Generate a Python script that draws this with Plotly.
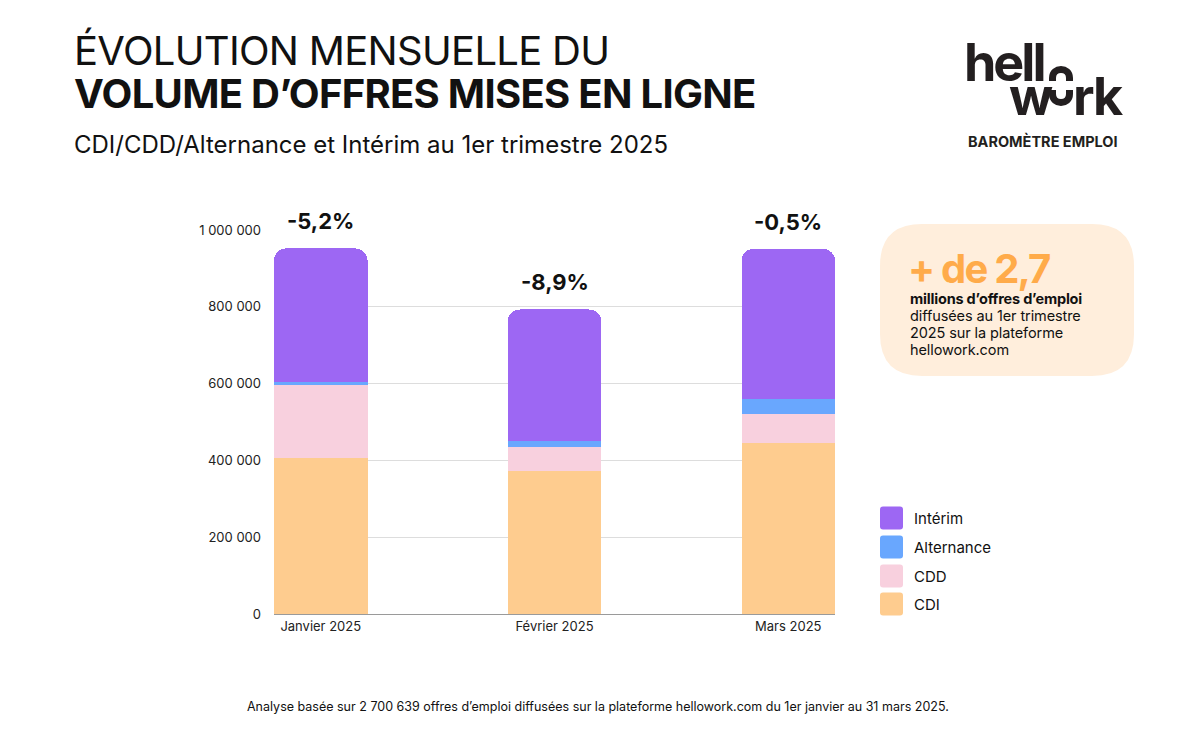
import plotly.graph_objects as go

# ---- data ----
months = ["Janvier 2025", "Février 2025", "Mars 2025"]
cdi = [407000, 372000, 445000]
cdd = [189000, 62000, 77000]
alternance = [8000, 16000, 38000]
interim = [348000, 343000, 391000]
evolution = ["-5,2%", "-8,9%", "-0,5%"]
series_names = ["CDI", "CDD", "Alternance", "Intérim"]
y_ticks = [0, 200000, 400000, 600000, 800000, 1000000]

colors = {"CDI": "#FECC8F", "CDD": "#F8D0DE", "Alternance": "#69A7FE", "Intérim": "#9D67F3"}
values = {"CDI": cdi, "CDD": cdd, "Alternance": alternance, "Intérim": interim}

# page body has an 8px default margin: compensate
OFF = 8
W, H = 1200 - OFF, 740 - OFF
ML, MT = 274 - OFF, 230 - OFF
PW, PH = 561, 384
MR, MB = W - ML - PW, H - MT - PH
FONT = "Inter"
DARK = "#111111"
LOGO = "#231F20"


def px(x):
    # x in reference-picture pixels -> paper coordinate
    return (x - OFF - ML) / PW


def py(y):
    return (MT + PH - (y - OFF)) / PH


fig = go.Figure()
for name in series_names:
    fig.add_trace(go.Bar(
        x=months, y=values[name], name=name,
        marker=dict(color=colors[name], line=dict(width=0)),
        hoverinfo="x+y+name",
    ))

totals = [a + b + c + d for a, b, c, d in zip(cdi, cdd, alternance, interim)]

annotations = []
for m, t, e in zip(months, totals, evolution):
    annotations.append(dict(x=m, y=t, xref="x", yref="y", text="<b>%s</b>" % e,
                            showarrow=False, yanchor="bottom", yshift=12,
                            font=dict(family=FONT, size=22, color=DARK)))


def txt(x, y, text, size, color=DARK, xanchor="left", yanchor="middle", weight=None, ls=None):
    t = text
    if ls is not None:
        t = '<span style="letter-spacing:%spx">%s</span>' % (ls, t)
    if weight == "bold":
        t = "<b>%s</b>" % t
    annotations.append(dict(x=px(x), y=py(y), xref="paper", yref="paper", text=t,
                            showarrow=False, xanchor=xanchor, yanchor=yanchor,
                            font=dict(family=FONT, size=size, color=color)))


# titles
txt(72, 50, "ÉVOLUTION MENSUELLE DU", 40, ls=-0.7)
txt(72, 93, "VOLUME D’OFFRES MISES EN LIGNE", 40, weight="bold", ls=-0.7)
txt(72, 144, "CDI/CDD/Alternance et Intérim au 1er trimestre 2025", 24)

# footer
txt(598, 706, "Analyse basée sur 2 700 639 offres d’emploi diffusées sur la plateforme hellowork.com du 1er janvier au 31 mars 2025.",
    12.5, xanchor="center")

# logo
txt(962, 62, "hell", 52, color=LOGO, weight="bold", ls=-3)
txt(1007, 96, "w", 52, color=LOGO, weight="bold", ls=-2)
txt(1071, 96, "rk", 52, color=LOGO, weight="bold", ls=-2)
txt(1043, 141, "BAROMÈTRE EMPLOI", 14.5, color=LOGO, xanchor="center", weight="bold")

shapes = []


def arc(cx, cy, r, up=True):
    k = 4.0 / 3.0 * r * (-1 if up else 1)
    pts = [(cx - r, cy), (cx - r, cy + k), (cx + r, cy + k), (cx + r, cy)]
    p = [(px(a), py(b)) for a, b in pts]
    return "L%f,%f C%f,%f %f,%f %f,%f" % (p[0][0], p[0][1], p[1][0], p[1][1], p[2][0], p[2][1], p[3][0], p[3][1])


# split "o" of the hellowork logo
shapes.append(dict(type="path", xref="paper", yref="paper",
                   path="M%f,%f " % (px(1052.5), py(81)) + arc(1061, 78, 8.5, True) +
                   " L%f,%f" % (px(1069.5), py(81)),
                   line=dict(color=LOGO, width=7)))
shapes.append(dict(type="path", xref="paper", yref="paper",
                   path="M%f,%f " % (px(1052.5), py(90)) + arc(1061, 94, 8.5, False) +
                   " L%f,%f" % (px(1069.5), py(90)),
                   line=dict(color=LOGO, width=7)))


def rrect(x0, y0, x1, y1, r):
    pts = [
        ("M", [(x0 + r, y0)]), ("L", [(x1 - r, y0)]), ("Q", [(x1, y0), (x1, y0 + r)]),
        ("L", [(x1, y1 - r)]), ("Q", [(x1, y1), (x1 - r, y1)]), ("L", [(x0 + r, y1)]),
        ("Q", [(x0, y1), (x0, y1 - r)]), ("L", [(x0, y0 + r)]), ("Q", [(x0, y0), (x0 + r, y0)]),
    ]
    s = ""
    for cmd, ps in pts:
        s += cmd + " ".join("%f,%f" % (px(a), py(b)) for a, b in ps) + " "
    return s + "Z"


# callout box
shapes.append(dict(type="path", xref="paper", yref="paper", path=rrect(880, 224, 1134, 376, 42),
                   fillcolor="#FFEEDC", line=dict(width=0), layer="below"))
txt(906, 268, "+ de 2,7", 40, color="#FFAB4A", weight="bold", ls=-1.8)
txt(908, 298, "millions d’offres d’emploi", 14.5, weight="bold", ls=-0.2)
txt(908, 315, "diffusées au 1er trimestre", 14.5, ls=-0.1)
txt(908, 332, "2025 sur la plateforme", 14.5, ls=-0.1)
txt(908, 349, "hellowork.com", 14.5, ls=-0.1)

# custom legend
leg_y = {"Intérim": 518, "Alternance": 547, "CDD": 576, "CDI": 604}
for name in reversed(series_names):
    yc = leg_y[name]
    shapes.append(dict(type="path", xref="paper", yref="paper",
                       path=rrect(880, yc - 11.5, 903, yc + 11.5, 3),
                       fillcolor=colors[name], line=dict(width=0)))
    txt(912, yc, name, 15)

fig.update_layout(
    width=W, height=H,
    margin=dict(l=ML, r=MR, t=MT, b=MB, pad=0),
    paper_bgcolor="white", plot_bgcolor="white",
    barmode="stack", bargap=0.6, barcornerradius=12,
    showlegend=False,
    separators=", ",
    font=dict(family=FONT, color="#222222"),
    xaxis=dict(range=[-0.2, 2.2], showgrid=False, showline=True, linecolor="#9a9a9a", linewidth=1,
               ticks="", tickfont=dict(size=13, color="#222222"), fixedrange=True),
    yaxis=dict(range=[0, 1000000], tickvals=y_ticks, tickformat=",d", showgrid=True,
               gridcolor="#dddddd", gridwidth=1, zeroline=False, showline=False, ticks="",
               ticklabelstandoff=12, tickfont=dict(size=13, color="#222222"), fixedrange=True),
    annotations=annotations,
    shapes=shapes,
)

fig.write_html("out.html")
